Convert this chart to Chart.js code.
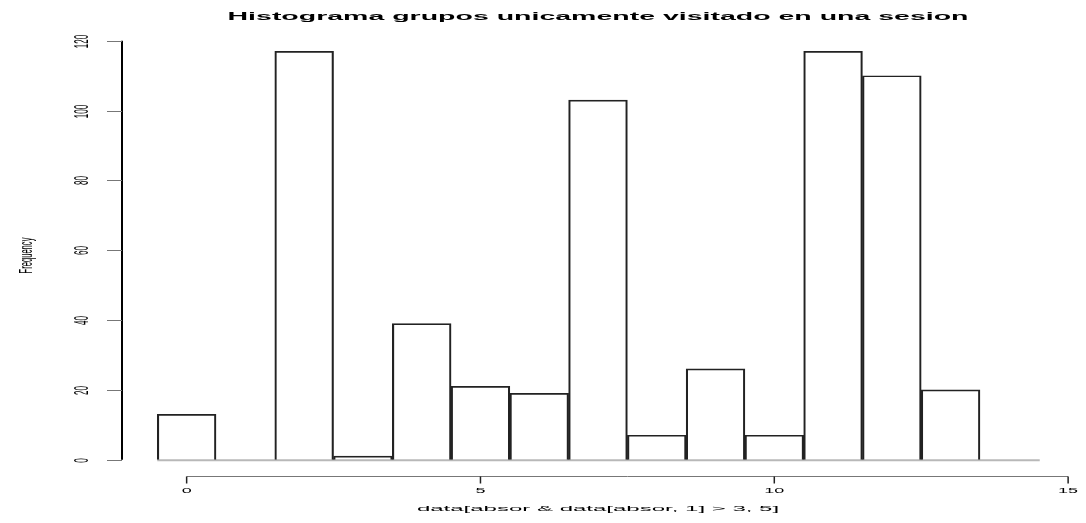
<!DOCTYPE html>
<html>
<head>
<meta charset="utf-8">
<script src="https://cdn.jsdelivr.net/npm/chart.js@4.4.1/dist/chart.umd.min.js"></script>
<style>
html,body{margin:0;padding:0;background:#fff;}
#wrap{width:1086px;height:523px;position:relative;}
</style>
</head>
<body>
<div id="wrap"><canvas id="c" width="1086" height="523"></canvas></div>
<script>
// Data (histogram bins of width 1, centred on integers)
const binCenters = [0, 1, 2, 3, 4, 5, 6, 7, 8, 9, 10, 11, 12, 13, 14];
const frequencies = [13, 0, 117, 1, 39, 21, 19, 103, 7, 26, 7, 117, 110, 20, 0];
const xTickValues = [0, 5, 10, 15];
const yTickValues = [0, 20, 40, 60, 80, 100, 120];
const titleText = 'Histograma grupos unicamente visitado en una sesion';
const xTitleText = 'data[absor & data[absor, 1] > 3, 5]';
const yTitleText = 'Frequency';

const FONT = '"Liberation Sans", Arial, Helvetica, sans-serif';

function stretchedText(ctx, text, x, y, font, sx, rotate, color) {
  ctx.save();
  ctx.font = font;
  ctx.fillStyle = color || '#000';
  ctx.textAlign = 'center';
  ctx.textBaseline = 'middle';
  ctx.translate(x, y);
  ctx.scale(sx, 1);
  if (rotate) ctx.rotate(-Math.PI / 2);
  ctx.fillText(text, 0, 0);
  ctx.restore();
}

const rPlot = {
  id: 'rPlot',
  beforeDatasetsDraw(chart) {
    const ctx = chart.ctx;
    const xs = chart.scales.x, ys = chart.scales.y;
    // baseline for zero-height bins
    const y0 = ys.getPixelForValue(0);
    const xl = xs.getPixelForValue(binCenters[0] - 0.5);
    const xr = xs.getPixelForValue(binCenters[binCenters.length - 1] + 0.5);
    ctx.save();
    ctx.strokeStyle = '#b8b8b8';
    ctx.lineWidth = 2;
    ctx.beginPath();
    ctx.moveTo(xl, y0 + 0.5);
    ctx.lineTo(xr + 1, y0 + 0.5);
    ctx.stroke();
    ctx.restore();
  },
  afterDraw(chart) {
    const ctx = chart.ctx;
    const xs = chart.scales.x, ys = chart.scales.y;
    const area = chart.chartArea;
    ctx.save();
    // y axis
    const yAxisX = area.left;
    ctx.strokeStyle = '#000';
    ctx.lineWidth = 2;
    ctx.beginPath();
    ctx.moveTo(yAxisX, ys.getPixelForValue(yTickValues[0]));
    ctx.lineTo(yAxisX, ys.getPixelForValue(yTickValues[yTickValues.length - 1]));
    ctx.stroke();
    ctx.strokeStyle = '#777';
    ctx.lineWidth = 1;
    yTickValues.forEach(v => {
      const py = Math.round(ys.getPixelForValue(v)) + 0.5;
      ctx.beginPath();
      ctx.moveTo(yAxisX - 15, py);
      ctx.lineTo(yAxisX, py);
      ctx.stroke();
      stretchedText(ctx, String(v), yAxisX - 40, py, '8px ' + FONT, 2.6, true, '#000');
    });
    // x axis
    const xAxisY = Math.round(area.bottom) + 0.5;
    ctx.strokeStyle = '#777';
    ctx.lineWidth = 1;
    ctx.beginPath();
    ctx.moveTo(xs.getPixelForValue(xTickValues[0]), xAxisY);
    ctx.lineTo(xs.getPixelForValue(xTickValues[xTickValues.length - 1]), xAxisY);
    ctx.stroke();
    ctx.strokeStyle = '#222';
    ctx.lineWidth = 1.5;
    xTickValues.forEach(v => {
      const px = xs.getPixelForValue(v);
      ctx.beginPath();
      ctx.moveTo(px, xAxisY);
      ctx.lineTo(px, xAxisY + 7);
      ctx.stroke();
      stretchedText(ctx, String(v), px, xAxisY + 14, '7.5px ' + FONT, 2.4, false, '#000');
    });
    // titles
    const cx = (area.left + area.right) / 2;
    stretchedText(ctx, titleText, cx, 17, 'bold 11px ' + FONT, 2.59, false, '#000');
    stretchedText(ctx, xTitleText, cx, 509, '7.5px ' + FONT, 3.2, false, '#000');
    stretchedText(ctx, yTitleText, 27, (area.top + area.bottom) / 2, '7.6px ' + FONT, 2.5, true, '#000');
    ctx.restore();
  }
};

new Chart(document.getElementById('c'), {
  type: 'bar',
  data: {
    datasets: [{
      data: binCenters.map((x, i) => ({ x: x, y: frequencies[i] })),
      backgroundColor: 'rgba(255,255,255,0)',
      borderColor: '#222',
      borderWidth: { top: 1, bottom: 0, left: 1.5, right: 1.5 },
      borderSkipped: false,
      barPercentage: 1,
      categoryPercentage: 1
    }]
  },
  options: {
    responsive: false,
    animation: false,
    devicePixelRatio: 1,
    layout: { padding: { left: 122, right: 12, top: 35, bottom: 47 } },
    plugins: { legend: { display: false }, tooltip: { enabled: false }, title: { display: false } },
    scales: {
      x: { type: 'linear', display: false, offset: false, min: -1.1, max: 15.1 },
      y: { type: 'linear', display: false, min: -4.68, max: 121.68 }
    }
  },
  plugins: [rPlot]
});
</script>
</body>
</html>
